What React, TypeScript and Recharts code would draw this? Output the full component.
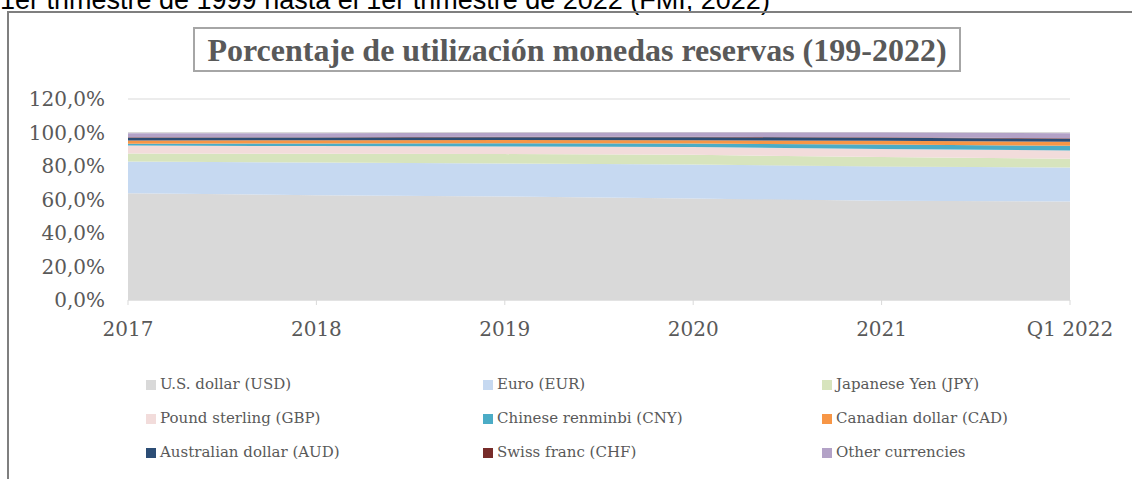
import React from 'react';
import { AreaChart, Area, XAxis, YAxis, CartesianGrid } from 'recharts';

// Reserve currency shares (% of allocated reserves)
const YEARS = ['2017', '2018', '2019', '2020', '2021', 'Q1 2022'];
const USD = [63.8, 62.6, 61.8, 60.6, 59.2, 58.8];
const EUR = [18.9, 19.5, 19.7, 20.3, 20.5, 20.3];
const JPY = [4.8, 5.2, 5.6, 5.8, 5.6, 5.3];
const GBP = [4.7, 4.6, 4.6, 4.6, 4.8, 4.9];
const CNY = [1.1, 1.6, 1.9, 2.1, 2.7, 2.8];
const CAD = [1.9, 1.9, 1.9, 2.0, 2.3, 2.4];
const AUD = [1.7, 1.6, 1.7, 1.8, 1.8, 1.8];
const CHF = [0.2, 0.2, 0.2, 0.2, 0.2, 0.2];
const OTHER = [2.4, 2.4, 2.5, 2.6, 2.9, 3.0];
const Y_TICKS = [0, 20, 40, 60, 80, 100, 120];

const SERIES = [
  { key: 'usd', name: 'U.S. dollar (USD)', color: '#d9d9d9', values: USD },
  { key: 'eur', name: 'Euro (EUR)', color: '#c6d9f1', values: EUR },
  { key: 'jpy', name: 'Japanese Yen (JPY)', color: '#d7e4bd', values: JPY },
  { key: 'gbp', name: 'Pound sterling (GBP)', color: '#f2dcdb', values: GBP },
  { key: 'cny', name: 'Chinese renminbi (CNY)', color: '#4bacc6', values: CNY },
  { key: 'cad', name: 'Canadian dollar (CAD)', color: '#f79646', values: CAD },
  { key: 'aud', name: 'Australian dollar (AUD)', color: '#2c4d75', values: AUD },
  { key: 'chf', name: 'Swiss franc (CHF)', color: '#772c2a', values: CHF },
  { key: 'other', name: 'Other currencies', color: '#b3a2c7', values: OTHER },
];

const data = YEARS.map((year, i) => {
  const row: Record<string, string | number> = { year };
  SERIES.forEach(s => { row[s.key] = s.values[i]; });
  return row;
});

const TEXT = '#595959';
const SERIF = '"DejaVu Serif", serif';

const LEGEND_COLS = [146, 483, 822];
const LEGEND_ROWS = [385, 419, 452.5];

const App: React.FC = () => {
  return (
    <div style={{ position: 'absolute', left: 0, top: 0, width: 1132, height: 479, overflow: 'hidden', background: '#fff' }}>
      {/* caption from the document, clipped at the top like the source */}
      <div style={{ position: 'absolute', left: 0, top: -15, fontFamily: '"Liberation Sans", Arial, sans-serif', fontSize: 27, lineHeight: '30px', color: '#000', whiteSpace: 'nowrap' }}>
        1er trimestre de 1999 hasta el 1er trimestre de 2022 (FMI, 2022)
      </div>
      {/* chart frame */}
      <div style={{ position: 'absolute', left: 7, top: 11, width: 1140, height: 480, borderLeft: '2px solid #7f7f7f', borderTop: '2px solid #7f7f7f' }} />
      {/* title box */}
      <div style={{ position: 'absolute', left: 193, top: 27, width: 764, height: 41, border: '2px solid #a6a6a6', display: 'flex', alignItems: 'center', justifyContent: 'center' }}>
        <span style={{ fontFamily: '"Liberation Serif", serif', fontWeight: 'bold', fontSize: 32, lineHeight: '36px', color: TEXT, whiteSpace: 'nowrap' }}>
          Porcentaje de utilización monedas reservas (199-2022)
        </span>
      </div>

      <div style={{ position: 'absolute', left: 0, top: 0 }}>
        <AreaChart width={1132} height={479} data={data} margin={{ top: 99, right: 62, bottom: 149, left: 0 }}>
          <CartesianGrid vertical={false} stroke="#d9d9d9" />
          <XAxis
            dataKey="year"
            axisLine={{ stroke: '#d9d9d9' }}
            tickLine={{ stroke: '#d9d9d9' }}
            tickSize={5}
            tickMargin={17}
            height={30}
            interval={0}
            tick={{ fill: TEXT, fontSize: 20, fontFamily: SERIF }}
          />
          <YAxis
            width={128}
            domain={[0, 120]}
            ticks={Y_TICKS}
            axisLine={false}
            tickLine={false}
            tickSize={0}
            tickMargin={23}
            tickFormatter={(v: number) => `${v.toFixed(1).replace('.', ',')}%`}
            tick={{ fill: TEXT, fontSize: 20, fontFamily: SERIF }}
          />
          {SERIES.map(s => (
            <Area
              key={s.key}
              type="linear"
              dataKey={s.key}
              name={s.name}
              stackId="1"
              fill={s.color}
              fillOpacity={1}
              stroke="none"
              isAnimationActive={false}
            />
          ))}
        </AreaChart>
      </div>

      {/* legend, 3 columns x 3 rows */}
      {SERIES.map((s, i) => {
        const x = LEGEND_COLS[i % 3];
        const y = LEGEND_ROWS[Math.floor(i / 3)];
        return (
          <div key={s.key}>
            <div style={{ position: 'absolute', left: x, top: y - 5, width: 10, height: 10, background: s.color }} />
            <div style={{ position: 'absolute', left: x + 14, top: y - 8, fontFamily: SERIF, fontSize: 15, lineHeight: '15px', color: TEXT, whiteSpace: 'nowrap' }}>
              {s.name}
            </div>
          </div>
        );
      })}
    </div>
  );
};

export default App;
